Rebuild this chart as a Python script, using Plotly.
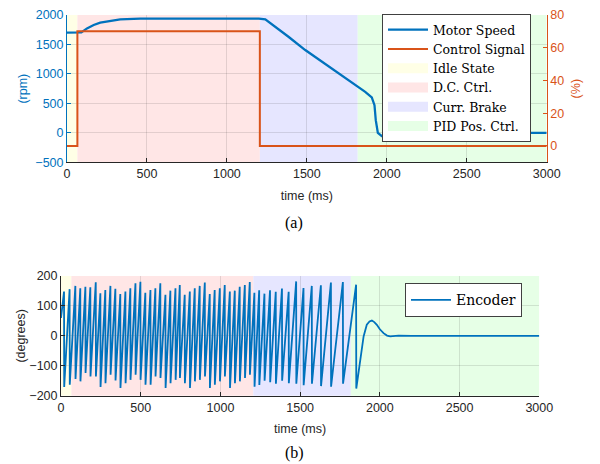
import plotly.graph_objects as go

# ---------------- data ----------------
# (a) motor speed (rpm) vs time (ms)
speed_t = [0, 90, 125, 167, 208, 271, 333, 458, 1200, 1240, 1302, 1385, 1490, 1594,
           1698, 1802, 1865, 1906, 1923, 1931, 1944, 1969, 2010, 2052, 2062, 2066, 3000]
speed_rpm = [1700, 1705, 1773, 1830, 1870, 1904, 1926, 1940, 1940, 1926, 1801, 1631, 1405, 1207,
             1008, 810, 696, 601, 470, 215, 0, -57, -69, -40, -40, 0, 0]

# (a) control signal (%) - step values
ctrl_t = [0, 65, 1206, 3000]
ctrl_pct = [0, 70, 0, 0]

# phases (shared by both panels)
phase_names = ["Idle State", "D.C. Ctrl.", "Curr. Brake", "PID Pos. Ctrl."]
phase_start = [0, 65, 1206, 1818]
phase_end = [65, 1206, 1818, 3000]
phase_colors = ["rgb(255,255,230)", "rgb(255,230,230)", "rgb(230,230,255)", "rgb(230,255,230)"]

# (b) encoder angle: wrap instants (ms), value just before wrap and just after
enc_start_deg = 60
wrap_t = [19, 54, 90, 121, 153, 184, 218, 247, 278, 310, 341, 372, 404, 435, 467, 498, 529, 561,
          592, 623, 655, 686, 718, 745,
          776, 808, 839, 870, 902, 933, 964, 996, 1027, 1059, 1090, 1121, 1153, 1184,
          1213, 1243, 1276, 1311, 1347, 1386, 1428, 1475, 1521, 1573, 1630, 1693, 1768, 1851]
wrap_peak = [148, 156, 167, 159, 164, 162, 179, 142, 153, 167, 157, 140, 148, 159, 176, 181, 144, 153,
             159, 176, 137, 151, 159, 170,
             137, 148, 159, 167, 178, 140, 153, 159, 170, 148, 151, 164, 170, 180,
             144, 152, 141, 152, 147, 158, 147, 182, 160, 167, 169, 178, 180, 171]
wrap_trough = [-171, -163, -144, -152, -124, -136, -136, -171, -158, -130, -149, -174, -158, -147,
               -130, -147, -163, -163, -136, -141, -174, -158, -147, -141,
               -158, -174, -152, -147, -136, -174, -163, -152, -136, -174, -158, -152, -141, -130,
               -170, -164, -150, -155, -160, -150, -158, -160, -165, -160, -168, -170, -160, -176]
# PID settling after the last wrap
pid_t = [1877, 1898, 1918, 1935, 1950, 1965, 1981, 2000, 2023, 2045, 2065, 2090, 2117, 2200, 3000]
pid_deg = [-80, -2, 37, 48, 51, 46, 37, 22, 9, 1, -2, -1, 1, 0, 0]

# ---------------- build encoder polyline ----------------
enc_t = [0]
enc_deg = [enc_start_deg]
for t, p, q in zip(wrap_t, wrap_peak, wrap_trough):
    enc_t += [t, t + 1]
    enc_deg += [p, q]
enc_t += pid_t
enc_deg += pid_deg

BLUE = "#0072BD"
ORANGE = "#D95319"
DARK = "#262626"
GRID = "rgba(38,38,38,0.13)"
SANS = "Liberation Sans, Arial, sans-serif"
SERIF = "Liberation Serif, Times New Roman, serif"
LSERIF = "DejaVu Serif, serif"

# page body has an 8px margin: figure is 592x456 so it fills the 600x464 window
OFF = 8
W, H = 600 - OFF, 464 - OFF


def fx(px):
    return (px - OFF) / W


def fy(py):
    return 1 - (py - OFF) / H


fig = go.Figure()

fig.add_trace(go.Scatter(x=speed_t, y=speed_rpm, mode="lines", name="Motor Speed",
                         line=dict(color=BLUE, width=2.3), xaxis="x", yaxis="y",
                         legend="legend"))
fig.add_trace(go.Scatter(x=ctrl_t, y=ctrl_pct, mode="lines", name="Control Signal",
                         line=dict(color=ORANGE, width=2, shape="hv"), xaxis="x", yaxis="y2",
                         legend="legend"))
# legend entries for the phase shading (the shading itself is drawn by layout shapes)
for name, c in zip(phase_names, phase_colors):
    fig.add_trace(go.Scatter(x=[None], y=[None], mode="lines", line=dict(color=c, width=12),
                             name=name, xaxis="x", yaxis="y", legend="legend"))
fig.add_trace(go.Scatter(x=enc_t, y=enc_deg, mode="lines", name="Encoder",
                         line=dict(color=BLUE, width=1.8), xaxis="x2", yaxis="y3",
                         legend="legend2"))

shapes = []
for s, e, c in zip(phase_start, phase_end, phase_colors):
    shapes.append(dict(type="rect", xref="x", yref="y domain", x0=s, x1=e, y0=0, y1=1,
                       fillcolor=c, line=dict(width=0), layer="below"))
    shapes.append(dict(type="rect", xref="x2", yref="y3 domain", x0=s, x1=e, y0=0, y1=1,
                       fillcolor=c, line=dict(width=0), layer="below"))

top_dom = [fy(162.3), fy(15)]
bot_dom = [fy(395.7), fy(276)]

xcommon = dict(range=[0, 3000], dtick=500, ticks="inside", ticklen=4, tickcolor=DARK,
               showline=True, linecolor=DARK, linewidth=1, showgrid=True, gridcolor=GRID,
               zeroline=False, automargin=False,
               tickfont=dict(family=SANS, size=12.5, color=DARK),
               title=dict(text="time (ms)", font=dict(family=SANS, size=12.5, color=DARK), standoff=10))

fig.update_layout(
    width=W, height=H, margin=dict(l=0, r=0, t=0, b=0, autoexpand=False),
    paper_bgcolor="white", plot_bgcolor="white",
    xaxis=dict(domain=[fx(67), fx(546.7)], anchor="y", **xcommon),
    yaxis=dict(domain=top_dom, range=[-500, 2000], dtick=500, ticks="inside", ticklen=4,
               tickcolor=BLUE, showline=True, linecolor=BLUE, linewidth=1,
               showgrid=True, gridcolor=GRID, zeroline=False, automargin=False,
               tickfont=dict(family=SANS, size=12.5, color=BLUE),
               title=dict(text="(rpm)", font=dict(family=SANS, size=12.5, color=BLUE), standoff=4)),
    yaxis2=dict(overlaying="y", side="right", anchor="x", range=[-10, 80],
                tickvals=[0, 20, 40, 60, 80], ticks="inside", ticklen=4, tickcolor=ORANGE,
                showline=True, linecolor=ORANGE, linewidth=1, showgrid=False, zeroline=False,
                automargin=False,
                tickfont=dict(family=SANS, size=12.5, color=ORANGE),
                title=dict(text="(%)", font=dict(family=SANS, size=12.5, color=ORANGE), standoff=8)),
    xaxis2=dict(domain=[fx(61), fx(539.3)], anchor="y3", **xcommon),
    yaxis3=dict(domain=bot_dom, anchor="x2", range=[-200, 200], dtick=100, ticks="inside",
                ticklen=4, tickcolor=DARK, showline=True, linecolor=DARK, linewidth=1,
                showgrid=True, gridcolor=GRID, zeroline=False, automargin=False,
                tickfont=dict(family=SANS, size=12.5, color=DARK),
                title=dict(text="(degrees)", font=dict(family=SANS, size=12.5, color=DARK), standoff=0)),
    legend=dict(x=fx(531), xanchor="right", y=fy(14), yanchor="top",
                bgcolor="white", bordercolor="#404040", borderwidth=1,
                font=dict(family=LSERIF, size=12.5, color="black"), tracegroupgap=0,
                itemwidth=40, traceorder="normal"),
    legend2=dict(x=fx(522), xanchor="right", y=fy(283.3), yanchor="top",
                 bgcolor="white", bordercolor="#404040", borderwidth=1,
                 font=dict(family=LSERIF, size=14, color="black"), itemwidth=40),
    shapes=shapes,
    annotations=[
        dict(text="(a)", x=fx(294), y=fy(223), xref="paper", yref="paper",
             xanchor="center", yanchor="middle",
             showarrow=False, font=dict(family=SERIF, size=16, color="black")),
        dict(text="(b)", x=fx(294), y=fy(453), xref="paper", yref="paper",
             xanchor="center", yanchor="middle",
             showarrow=False, font=dict(family=SERIF, size=16, color="black")),
    ],
)

fig.write_html("out.html")
